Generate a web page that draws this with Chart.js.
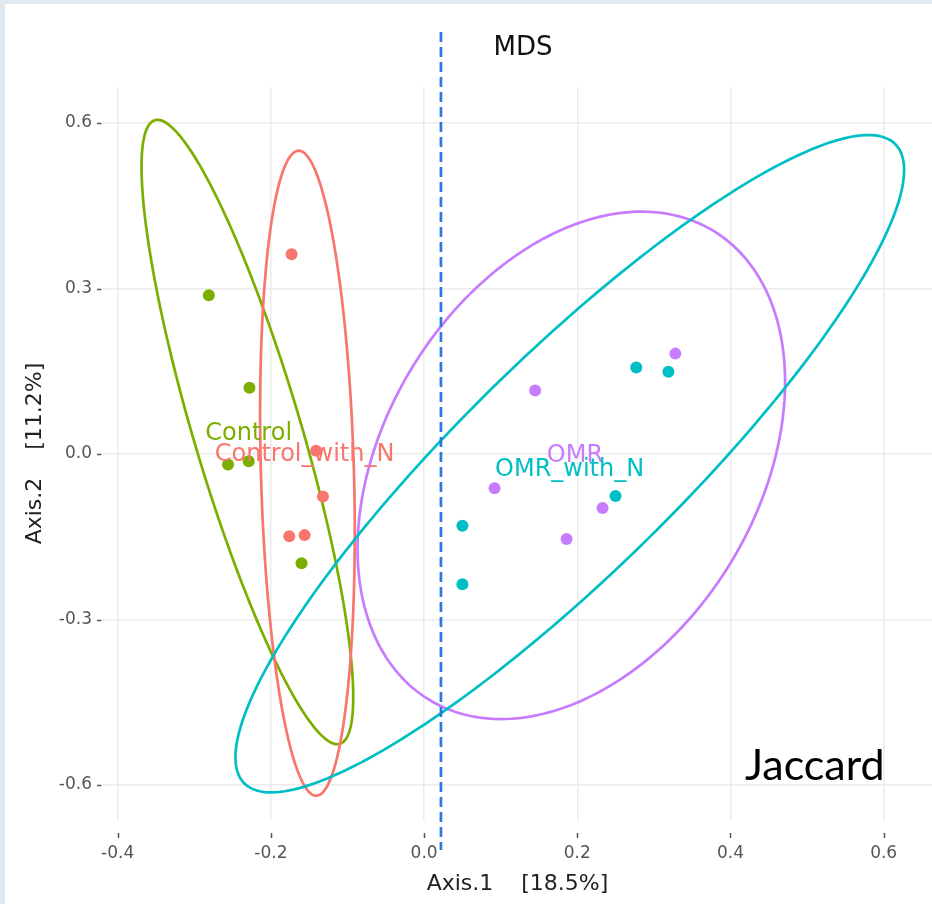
<!DOCTYPE html>
<html>
<head>
<meta charset="utf-8">
<script src="https://cdn.jsdelivr.net/npm/chart.js@4.4.0/dist/chart.umd.min.js"></script>
<style>
  html, body { margin: 0; padding: 0; background: #fff; }
  canvas { display: block; }
</style>
</head>
<body>
<canvas id="mdsChart" width="932" height="904"></canvas>
<script>
// groups, in drawing order
var groups = ['Control', 'Control_with_N', 'OMR', 'OMR_with_N'];
var groupColors = ['#7cae00', '#f8766d', '#c77cff', '#00bfc4'];

// sample scores (Axis.1, Axis.2)
var controlX = [-0.281, -0.228, -0.256, -0.229, -0.160];
var controlY = [0.288, 0.120, -0.019, -0.013, -0.198];
var controlNX = [-0.173, -0.141, -0.132, -0.176, -0.156];
var controlNY = [0.362, 0.006, -0.077, -0.149, -0.147];
var omrX = [0.145, 0.328, 0.092, 0.233, 0.186];
var omrY = [0.115, 0.182, -0.062, -0.098, -0.154];
var omrNX = [0.277, 0.319, 0.250, 0.050, 0.050];
var omrNY = [0.157, 0.149, -0.076, -0.130, -0.236];

// group label positions
var labelX = [-0.229, -0.156, 0.197, 0.190];
var labelY = [0.041, 0.004, 0.001, -0.024];

// 95% ellipses: centre, half width, half height, x offset of the top point
var ellipseCx = [-0.2307, -0.1523, 0.1922, 0.1902];
var ellipseCy = [0.0399, -0.0348, -0.0205, -0.0176];
var ellipseW = [0.1382, 0.0618, 0.2791, 0.4365];
var ellipseH = [0.5659, 0.5846, 0.4599, 0.5958];
var ellipseTopDx = [-0.1173, -0.0114, 0.0918, 0.3899];

var refLineX = [0.022];

var xTicks = [-0.4, -0.2, 0.0, 0.2, 0.4, 0.6];
var yTicks = [-0.6, -0.3, 0.0, 0.3, 0.6];

var groupX = [controlX, controlNX, omrX, omrNX];
var groupY = [controlY, controlNY, omrY, omrNY];

function toPoints(xs, ys) {
  return xs.map(function(x, i) { return {x: x, y: ys[i]}; });
}

var mdsDecor = {
  id: 'mdsDecor',
  beforeDraw: function(chart) {
    var c = chart.ctx;
    c.save();
    c.fillStyle = '#dfe9ef';
    c.fillRect(0, 0, chart.width, chart.height);
    c.fillStyle = '#ffffff';
    c.fillRect(5, 4, chart.width - 5, chart.height - 4);
    c.restore();
  },
  beforeDatasetsDraw: function(chart) {
    var c = chart.ctx, xs = chart.scales.x, ys = chart.scales.y, a = chart.chartArea;
    c.save();
    c.beginPath();
    c.rect(a.left, a.top, a.right - a.left, a.bottom - a.top);
    c.clip();
    for (var g = 0; g < groups.length; g++) {
      var W = ellipseW[g], H = ellipseH[g];
      var C = ellipseTopDx[g] * H / W;
      var D = Math.sqrt(H * H - C * C);
      c.beginPath();
      for (var i = 0; i <= 240; i++) {
        var t = i / 240 * 2 * Math.PI;
        var px = xs.getPixelForValue(ellipseCx[g] + W * Math.cos(t));
        var py = ys.getPixelForValue(ellipseCy[g] + C * Math.cos(t) + D * Math.sin(t));
        if (i === 0) c.moveTo(px, py); else c.lineTo(px, py);
      }
      c.closePath();
      c.strokeStyle = groupColors[g];
      c.lineWidth = 2.7;
      c.stroke();
    }
    c.restore();
  },
  afterDatasetsDraw: function(chart) {
    var c = chart.ctx, xs = chart.scales.x, ys = chart.scales.y;
    c.save();
    c.font = '24px "DejaVu Sans"';
    c.textAlign = 'center';
    c.textBaseline = 'alphabetic';
    for (var g = 0; g < groups.length; g++) {
      c.fillStyle = groupColors[g];
      c.fillText(groups[g], xs.getPixelForValue(labelX[g]), ys.getPixelForValue(labelY[g]) + 9);
    }
    c.restore();
  },
  afterDraw: function(chart) {
    var c = chart.ctx, xs = chart.scales.x, ys = chart.scales.y, a = chart.chartArea;
    c.save();
    // tick marks
    c.strokeStyle = '#555';
    c.lineWidth = 1.5;
    xTicks.forEach(function(v) {
      var px = Math.round(xs.getPixelForValue(v)) + 0.5;
      c.beginPath(); c.moveTo(px, a.bottom + 13); c.lineTo(px, a.bottom + 18); c.stroke();
    });
    yTicks.forEach(function(v) {
      var py = Math.round(ys.getPixelForValue(v)) + 0.5;
      c.beginPath(); c.moveTo(a.left - 6, py); c.lineTo(a.left - 1.5, py); c.stroke();
    });
    // dashed reference line
    var lx = xs.getPixelForValue(refLineX[0]);
    c.setLineDash([10, 5]);
    c.strokeStyle = '#2a7ade';
    c.lineWidth = 2.7;
    c.beginPath(); c.moveTo(lx, 32); c.lineTo(lx, 850); c.stroke();
    c.setLineDash([]);
    // title and corner note
    c.fillStyle = '#111';
    c.font = '26px "DejaVu Sans"';
    c.textAlign = 'center';
    c.textBaseline = 'alphabetic';
    c.fillText('MDS', 523, 55);
    c.fillStyle = '#000';
    c.font = '43px Lato';
    c.textAlign = 'left';
    c.fillText('Jaccard', 745, 780);
    c.restore();
  }
};

var ctx = document.getElementById('mdsChart').getContext('2d');
var mdsChart = new Chart(ctx, {
  type: 'scatter',
  data: {
    datasets: groups.map(function(name, g) {
      return {
        label: name,
        data: toPoints(groupX[g], groupY[g]),
        backgroundColor: groupColors[g],
        borderWidth: 0,
        pointRadius: 6,
        pointHoverRadius: 6
      };
    })
  },
  options: {
    responsive: false,
    animation: false,
    layout: { autoPadding: false, padding: { top: 87, left: 0, right: 0, bottom: 0 } },
    plugins: {
      legend: { display: false },
      tooltip: { enabled: false }
    },
    scales: {
      x: {
        type: 'linear',
        min: -0.4192,
        max: 0.6631,
        afterFit: function(s) { s.height = 84; },
        afterBuildTicks: function(s) { s.ticks = xTicks.map(function(v) { return {value: v}; }); },
        grid: { color: '#ebebeb', lineWidth: 1.5, drawTicks: false },
        border: { display: false },
        ticks: {
          padding: 23,
          color: '#555',
          autoSkip: false,
          maxRotation: 0,
          font: { family: 'DejaVu Sans', size: 17 },
          callback: function(v) { return Number(v).toFixed(1); }
        },
        title: {
          display: true,
          text: 'Axis.1    [18.5%]',
          color: '#222',
          font: { family: 'DejaVu Sans', size: 22 },
          padding: { top: 0, bottom: 7 }
        }
      },
      y: {
        type: 'linear',
        min: -0.6634,
        max: 0.6653,
        afterFit: function(s) { s.width = 103; },
        afterBuildTicks: function(s) { s.ticks = yTicks.map(function(v) { return {value: v}; }); },
        grid: { color: '#ebebeb', lineWidth: 1.5, drawTicks: false },
        border: { display: false },
        ticks: {
          padding: 11,
          color: '#555',
          autoSkip: false,
          font: { family: 'DejaVu Sans', size: 17 },
          callback: function(v) { return Number(v).toFixed(1); }
        },
        title: {
          display: true,
          text: 'Axis.2    [11.2%]',
          color: '#222',
          font: { family: 'DejaVu Sans', size: 22 },
          padding: { top: 22, bottom: 0 }
        }
      }
    }
  },
  plugins: [mdsDecor]
});
</script>
</body>
</html>
